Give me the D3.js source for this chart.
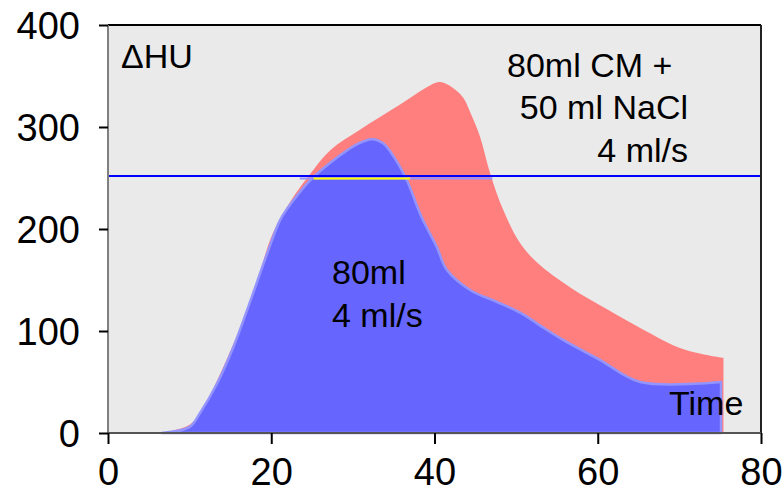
<!DOCTYPE html>
<html>
<head>
<meta charset="utf-8">
<script src="https://cdn.jsdelivr.net/npm/d3@7"></script>
<style>
  html, body { margin: 0; padding: 0; background: #fff; }
  svg { display: block; font-family: "Liberation Sans", Arial, Helvetica, sans-serif; }
</style>
</head>
<body>
<svg id="chart" width="782" height="492"></svg>
<script>
// ---- data ----
const redTime = [6.6, 10, 11.5, 13.4, 15.5, 17.8, 20.2, 22.5, 24.4, 27.2, 31, 35.4, 39.5, 40.7, 42.3, 43.5, 44.4, 45.6, 46.8, 48.4, 50.5, 52.6, 56.6, 61.2, 65.2, 70.5, 75.4];
const redHU   = [0, 8, 22, 52, 90, 137, 196, 229, 250, 277, 298, 320, 341, 344, 338, 329, 314, 290, 255, 219, 186, 167, 143, 121, 103, 82, 73.5];
const blueTime = [6.6, 10, 11.3, 13.4, 15.4, 17.6, 19.5, 21.1, 22.7, 24.8, 28.4, 30.5, 32.3, 33.7, 35, 36.6, 38.4, 40.3, 41.5, 44.4, 47.5, 50.5, 53, 55.8, 60.3, 65.2, 75.1];
const blueHU   = [0, 6, 20, 49, 85, 133, 176, 209, 228, 248, 272, 283, 288, 284, 271, 248, 212, 182, 160, 140, 129, 118, 105, 91, 71.5, 50, 50];
const thresholdHU = 252;
const yellowRange = [25.2, 37.0];
const plateauRange = [23.5, 47.1];
const xTicks = [0, 20, 40, 60, 80];
const yTicks = [0, 100, 200, 300, 400];
const yLabel = "\u0394HU";
const xLabel = "Time";
const redLabel = ["80ml CM +", "50 ml NaCl", "4 ml/s"];
const blueLabel = ["80ml", "4 ml/s"];

// ---- layout ----
const svg = d3.select("#chart");
const L = 108, T = 25, R = 761, B = 433;
const x = d3.scaleLinear().domain([0, 80]).range([L, R]);
const y = d3.scaleLinear().domain([0, 400]).range([B, T]);

svg.append("rect").attr("x", L).attr("y", T).attr("width", R - L).attr("height", B - T).attr("fill", "#eaeaea");

const red = redTime.map((t, i) => [t, redHU[i]]);
const blue = blueTime.map((t, i) => [t, blueHU[i]]);
const area = d3.area().x(d => x(d[0])).y0(y(0)).y1(d => y(d[1])).curve(d3.curveCatmullRom.alpha(0.5));

svg.append("path").attr("d", area(red)).attr("fill", "#ff7f7f");
svg.append("path").attr("d", area(blue) + "Z").attr("fill", "#6666ff").attr("stroke", "#9494ff").attr("stroke-width", 2.5).attr("stroke-linejoin", "round");

// light plateau line and yellow segment
svg.append("line").attr("x1", x(plateauRange[0])).attr("x2", x(plateauRange[1]))
  .attr("y1", y(thresholdHU) + 2.5).attr("y2", y(thresholdHU) + 2.5).attr("stroke", "#9494ff").attr("stroke-width", 2);
svg.append("line").attr("x1", x(yellowRange[0])).attr("x2", x(yellowRange[1]))
  .attr("y1", y(thresholdHU) + 2.5).attr("y2", y(thresholdHU) + 2.5).attr("stroke", "#ffff00").attr("stroke-width", 2);
// threshold line
svg.append("line").attr("x1", L).attr("x2", R).attr("y1", y(thresholdHU)).attr("y2", y(thresholdHU))
  .attr("stroke", "#0000ff").attr("stroke-width", 2);

// frame
svg.append("line").attr("x1", L).attr("x2", R).attr("y1", T).attr("y2", T).attr("stroke", "#000").attr("stroke-width", 2);
svg.append("line").attr("x1", R).attr("x2", R).attr("y1", T).attr("y2", B).attr("stroke", "#222").attr("stroke-width", 2);

// axes
const yAxis = svg.append("g").attr("transform", `translate(${L},0)`)
  .call(d3.axisLeft(y).tickValues(yTicks).tickSize(9).tickPadding(19).tickFormat(d3.format("d")));
const xAxis = svg.append("g").attr("transform", `translate(0,${B})`)
  .call(d3.axisBottom(x).tickValues(xTicks).tickSize(11).tickPadding(14).tickFormat(d3.format("d")));
yAxis.select(".domain").attr("stroke", "#808080").attr("stroke-width", 2).attr("d", `M0,${T}V${B}`);
xAxis.select(".domain").attr("stroke", "#555").attr("stroke-width", 2).attr("d", `M${L},0H${R}`);
svg.selectAll(".tick line").attr("stroke", "#000").attr("stroke-width", 2);
svg.selectAll(".tick text").attr("font-size", 38).attr("fill", "#000").attr("font-family", "Liberation Sans, Arial, sans-serif");
yAxis.selectAll(".tick text").attr("dy", "0.36em");
xAxis.selectAll(".tick text").attr("dy", "0.71em");

// annotations
const txt = (s, tx, ty, anchor) => svg.append("text").attr("x", tx).attr("y", ty).attr("font-size", 34)
  .attr("text-anchor", anchor || "start").attr("fill", "#000").text(s);
txt(yLabel, 121, 68);
txt(xLabel, 669, 415);
txt(redLabel[0], 507, 77);
txt(redLabel[1], 688, 119, "end");
txt(redLabel[2], 688, 162, "end");
txt(blueLabel[0], 332, 284);
txt(blueLabel[1], 332, 327);
</script>
</body>
</html>
